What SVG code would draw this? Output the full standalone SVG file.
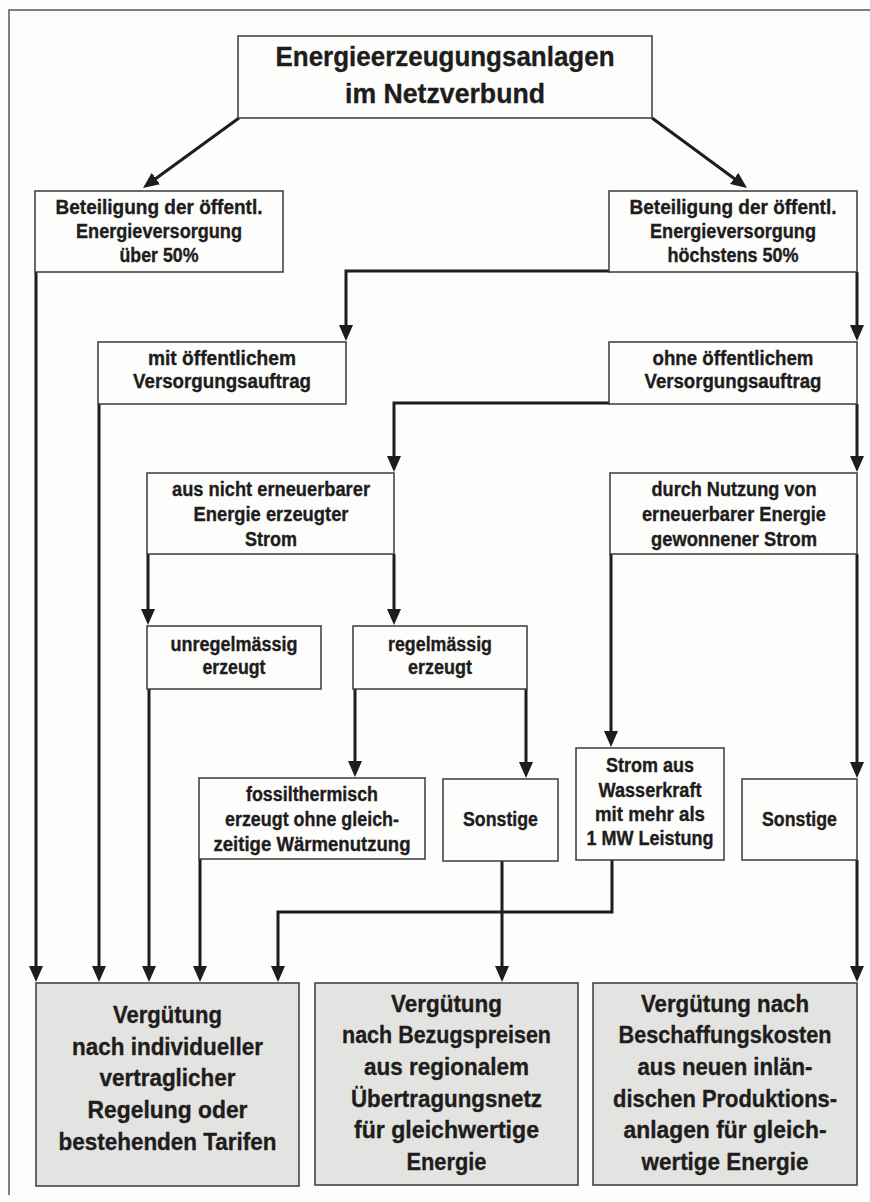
<svg xmlns="http://www.w3.org/2000/svg" width="870" height="1202" viewBox="0 0 870 1202">
<style>
text{font-family:"Liberation Sans","Noto Sans",Arial,sans-serif;font-weight:bold;fill:#1e1c1c;stroke:#1e1c1c;stroke-width:0.35;text-anchor:middle}
.t{font-size:28px}
.m{font-size:20px}
.b{font-size:24px}
.box{fill:#fdfdfb;stroke:#3a3a3a;stroke-width:1.5}
.gbox{fill:#e3e3e1;stroke:#3a3a3a;stroke-width:1.5}
.c{fill:none;stroke:#1e1c1c;stroke-width:3;marker-end:url(#ah)}
.frame{fill:none;stroke:#555;stroke-width:1.5}
</style>
<defs>
<marker id="ah" markerUnits="userSpaceOnUse" viewBox="0 0 16 14" markerWidth="16" markerHeight="14" refX="11" refY="7" orient="auto">
<path d="M0,0 L16,7 L0,14 z" fill="#1e1c1c"/>
</marker>
</defs>
<rect x="0" y="0" width="870" height="1202" fill="#fdfdfb"/>
<path class="frame" d="M870,10 H9 V1195"/>

<g id="connectors">
<path class="c" d="M239,118 L147,185"/>
<path class="c" d="M652,118 L743,185"/>
<path class="c" d="M36,272 V977"/>
<path class="c" d="M610,271 H346 V336"/>
<path class="c" d="M857,272 V336"/>
<path class="c" d="M99,404 V977"/>
<path class="c" d="M610,403 H394 V467"/>
<path class="c" d="M857,404 V467"/>
<path class="c" d="M148,554 V620"/>
<path class="c" d="M394,554 V620"/>
<path class="c" d="M611,554 V742"/>
<path class="c" d="M857,554 V773"/>
<path class="c" d="M149,689 V977"/>
<path class="c" d="M355,689 V772"/>
<path class="c" d="M526,689 V773"/>
<path class="c" d="M200,859 V977"/>
<path class="c" d="M502,861 V977"/>
<path class="c" d="M612,860 V912 H278 V977"/>
<path class="c" d="M857,860 V977"/>
</g>

<g id="top">
<rect class="box" x="238" y="36" width="414" height="82"/>
<text class="t" x="445" y="66" textLength="339" lengthAdjust="spacingAndGlyphs">Energieerzeugungsanlagen</text>
<text class="t" x="445" y="103" textLength="200" lengthAdjust="spacingAndGlyphs">im Netzverbund</text>
</g>

<g id="ueber50">
<rect class="box" x="35" y="191" width="248" height="81"/>
<text class="m" x="159" y="214" textLength="207" lengthAdjust="spacingAndGlyphs">Beteiligung der öffentl.</text>
<text class="m" x="159" y="238" textLength="166" lengthAdjust="spacingAndGlyphs">Energieversorgung</text>
<text class="m" x="159" y="262" textLength="79" lengthAdjust="spacingAndGlyphs">über 50%</text>
</g>

<g id="hoechstens50">
<rect class="box" x="609" y="191" width="248" height="81"/>
<text class="m" x="733" y="214" textLength="207" lengthAdjust="spacingAndGlyphs">Beteiligung der öffentl.</text>
<text class="m" x="733" y="238" textLength="166" lengthAdjust="spacingAndGlyphs">Energieversorgung</text>
<text class="m" x="733" y="262" textLength="131" lengthAdjust="spacingAndGlyphs">höchstens 50%</text>
</g>

<g id="mit">
<rect class="box" x="98" y="342" width="248" height="62"/>
<text class="m" x="222" y="365" textLength="148" lengthAdjust="spacingAndGlyphs">mit öffentlichem</text>
<text class="m" x="222" y="388" textLength="178" lengthAdjust="spacingAndGlyphs">Versorgungsauftrag</text>
</g>

<g id="ohne">
<rect class="box" x="609" y="342" width="248" height="62"/>
<text class="m" x="733" y="365" textLength="161" lengthAdjust="spacingAndGlyphs">ohne öffentlichem</text>
<text class="m" x="733" y="388" textLength="177" lengthAdjust="spacingAndGlyphs">Versorgungsauftrag</text>
</g>

<g id="nichterneuerbar">
<rect class="box" x="147" y="473" width="247" height="81"/>
<text class="m" x="271" y="496" textLength="198" lengthAdjust="spacingAndGlyphs">aus nicht erneuerbarer</text>
<text class="m" x="271" y="521" textLength="155" lengthAdjust="spacingAndGlyphs">Energie erzeugter</text>
<text class="m" x="271" y="546" textLength="52" lengthAdjust="spacingAndGlyphs">Strom</text>
</g>

<g id="erneuerbar">
<rect class="box" x="610" y="473" width="247" height="81"/>
<text class="m" x="734" y="496" textLength="165" lengthAdjust="spacingAndGlyphs">durch Nutzung von</text>
<text class="m" x="734" y="521" textLength="184" lengthAdjust="spacingAndGlyphs">erneuerbarer Energie</text>
<text class="m" x="734" y="546" textLength="166" lengthAdjust="spacingAndGlyphs">gewonnener Strom</text>
</g>

<g id="unregelmaessig">
<rect class="box" x="147" y="626" width="174" height="63"/>
<text class="m" x="234" y="651" textLength="127" lengthAdjust="spacingAndGlyphs">unregelmässig</text>
<text class="m" x="234" y="674" textLength="63" lengthAdjust="spacingAndGlyphs">erzeugt</text>
</g>

<g id="regelmaessig">
<rect class="box" x="353" y="626" width="174" height="63"/>
<text class="m" x="440" y="651" textLength="104" lengthAdjust="spacingAndGlyphs">regelmässig</text>
<text class="m" x="440" y="674" textLength="64" lengthAdjust="spacingAndGlyphs">erzeugt</text>
</g>

<g id="fossil">
<rect class="box" x="199" y="778" width="226" height="81"/>
<text class="m" x="312" y="801" textLength="132" lengthAdjust="spacingAndGlyphs">fossilthermisch</text>
<text class="m" x="312" y="826" textLength="174" lengthAdjust="spacingAndGlyphs">erzeugt ohne gleich-</text>
<text class="m" x="312" y="851" textLength="197" lengthAdjust="spacingAndGlyphs">zeitige Wärmenutzung</text>
</g>

<g id="sonstige1">
<rect class="box" x="443" y="779" width="115" height="82"/>
<text class="m" x="500.5" y="826" textLength="75" lengthAdjust="spacingAndGlyphs">Sonstige</text>
</g>

<g id="wasserkraft">
<rect class="box" x="576" y="748" width="148" height="112"/>
<text class="m" x="650" y="772" textLength="88" lengthAdjust="spacingAndGlyphs">Strom aus</text>
<text class="m" x="650" y="797" textLength="103" lengthAdjust="spacingAndGlyphs">Wasserkraft</text>
<text class="m" x="650" y="821" textLength="110" lengthAdjust="spacingAndGlyphs">mit mehr als</text>
<text class="m" x="650" y="845" textLength="127" lengthAdjust="spacingAndGlyphs">1 MW Leistung</text>
</g>

<g id="sonstige2">
<rect class="box" x="742" y="779" width="115" height="81"/>
<text class="m" x="799.5" y="826" textLength="75" lengthAdjust="spacingAndGlyphs">Sonstige</text>
</g>

<g id="verguetung1">
<rect class="gbox" x="36" y="983" width="263" height="203"/>
<text class="b" x="167.5" y="1023" textLength="109" lengthAdjust="spacingAndGlyphs">Vergütung</text>
<text class="b" x="167.5" y="1055" textLength="191" lengthAdjust="spacingAndGlyphs">nach individueller</text>
<text class="b" x="167.5" y="1086" textLength="136" lengthAdjust="spacingAndGlyphs">vertraglicher</text>
<text class="b" x="167.5" y="1118" textLength="160" lengthAdjust="spacingAndGlyphs">Regelung oder</text>
<text class="b" x="167.5" y="1150" textLength="218" lengthAdjust="spacingAndGlyphs">bestehenden Tarifen</text>
</g>

<g id="verguetung2">
<rect class="gbox" x="315" y="983" width="263" height="202"/>
<text class="b" x="446.5" y="1012" textLength="111" lengthAdjust="spacingAndGlyphs">Vergütung</text>
<text class="b" x="446.5" y="1043" textLength="209" lengthAdjust="spacingAndGlyphs">nach Bezugspreisen</text>
<text class="b" x="446.5" y="1075" textLength="165" lengthAdjust="spacingAndGlyphs">aus regionalem</text>
<text class="b" x="446.5" y="1107" textLength="191" lengthAdjust="spacingAndGlyphs">Übertragungsnetz</text>
<text class="b" x="446.5" y="1138" textLength="185" lengthAdjust="spacingAndGlyphs">für gleichwertige</text>
<text class="b" x="446.5" y="1170" textLength="80" lengthAdjust="spacingAndGlyphs">Energie</text>
</g>

<g id="verguetung3">
<rect class="gbox" x="593" y="983" width="264" height="202"/>
<text class="b" x="725" y="1012" textLength="168" lengthAdjust="spacingAndGlyphs">Vergütung nach</text>
<text class="b" x="725" y="1043" textLength="213" lengthAdjust="spacingAndGlyphs">Beschaffungskosten</text>
<text class="b" x="725" y="1075" textLength="175" lengthAdjust="spacingAndGlyphs">aus neuen inlän-</text>
<text class="b" x="725" y="1107" textLength="224" lengthAdjust="spacingAndGlyphs">dischen Produktions-</text>
<text class="b" x="725" y="1138" textLength="203" lengthAdjust="spacingAndGlyphs">anlagen für gleich-</text>
<text class="b" x="725" y="1170" textLength="167" lengthAdjust="spacingAndGlyphs">wertige Energie</text>
</g>
</svg>
